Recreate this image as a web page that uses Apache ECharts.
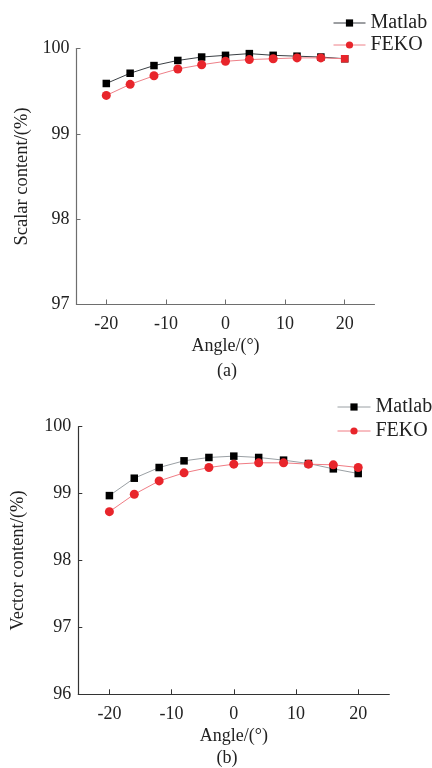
<!DOCTYPE html>
<html><head><meta charset="utf-8">
<script src="https://cdn.jsdelivr.net/npm/echarts@6/dist/echarts.min.js"></script>
<style>html,body{margin:0;padding:0;background:#fff}#c{width:432px;height:768px}</style>
</head><body><div id="c"></div>
<script>
const angles = [-20,-16,-12,-8,-4,0,4,8,12,16,20];
const scalarMatlab = [99.59,99.71,99.80,99.86,99.90,99.92,99.94,99.92,99.91,99.90,99.88];
const scalarFeko   = [99.45,99.58,99.68,99.76,99.81,99.85,99.87,99.88,99.89,99.89,99.88];
const vectorMatlab = [98.97,99.23,99.39,99.49,99.54,99.56,99.54,99.50,99.45,99.37,99.30];
const vectorFeko   = [98.73,98.99,99.19,99.31,99.39,99.44,99.46,99.46,99.44,99.43,99.39];
const xTicks = [-20,-10,0,10,20];
const scalarTicks = [97,98,99,100];
const vectorTicks = [96,97,98,99,100];

const F = 'Liberation Serif';
const chart = echarts.init(document.getElementById('c'), null, {renderer:'canvas'});
function pts(vals){ return angles.map((a,i)=>[a, vals[i]]); }

function xAxis(gi, axisColor){
  return {gridIndex:gi, type:'value', min:-25, max:25, interval:5,
    axisLine:{show:true, onZero:false, lineStyle:{color:axisColor, width:1.2}},
    axisTick:{show:true, inside:true, length:5, customValues:xTicks, lineStyle:{color:axisColor}},
    axisLabel:{color:'#222', fontFamily:F, fontSize:18, margin:11, customValues:xTicks},
    splitLine:{show:false},
    name:'Angle/(°)', nameLocation:'middle', nameGap:33,
    nameTextStyle:{color:'#222', fontFamily:F, fontSize:18}
  };
}
function yAxis(gi, min, max, ticks, name, axisColor, gap){
  return {gridIndex:gi, type:'value', min:min, max:max, interval:1,
    axisLine:{show:true, onZero:false, lineStyle:{color:axisColor, width:1.2}},
    axisTick:{show:true, inside:true, length:4, lineStyle:{color:axisColor}},
    axisLabel:{color:'#222', fontFamily:F, fontSize:18, margin:7},
    splitLine:{show:false},
    name:name, nameLocation:'middle', nameGap:gap, nameRotate:90,
    nameTextStyle:{color:'#222', fontFamily:F, fontSize:18.5}
  };
}
const red = '#e8252b';
function series(name, xi, vals, color, lineColor, symbol, size){
  return {name:name, type:'line', xAxisIndex:xi, yAxisIndex:xi, data:pts(vals),
    symbol:symbol, symbolSize:size, showSymbol:true,
    itemStyle:{color:color}, lineStyle:{color:lineColor, width:1}, z: 2, animation:false};
}
const s1 = series('Matlab',0,scalarMatlab,'#000','#3a3f44','rect',7.5);
const s2 = series('FEKO',0,scalarFeko,red,'#ee8088','circle',9);
s2.data[s2.data.length-1] = {value:s2.data[s2.data.length-1], symbol:'rect', symbolSize:7.5};
const s3 = series('Matlab',1,vectorMatlab,'#000','#9aa0a4','rect',7.5);
const s4 = series('FEKO',1,vectorFeko,red,'#f07c84','circle',9);

chart.setOption({
  animation:false,
  backgroundColor:'#fff',
  textStyle:{fontFamily:F},
  grid:[
    {left:76.5, top:48.5, width:298, height:256},
    {left:78.3, top:426.7, width:311, height:267.6}
  ],
  xAxis:[xAxis(0,'#6e6e6e'), xAxis(1,'#333')],
  yAxis:[yAxis(0,97,100,scalarTicks,'Scalar content/(%)','#6e6e6e',42),
         yAxis(1,96,100,vectorTicks,'Vector content/(%)','#333',51)],
  legend:[
    {left:333, top:13, padding:0, orient:'vertical', itemWidth:32, itemHeight:9, itemGap:2,
     textStyle:{fontFamily:F, fontSize:20, color:'#222'},
     data:[{name:'Matlab', itemStyle:{color:'#000'}, lineStyle:{color:'#3a3f44', width:1}},
           {name:'FEKO', itemStyle:{color:red}, lineStyle:{color:'#ee8088', width:1}}]},
    {left:337, top:397, padding:0, orient:'vertical', itemWidth:33, itemHeight:9, itemGap:4,
     textStyle:{fontFamily:F, fontSize:20, color:'#222'},
     data:[{name:'Matlab', itemStyle:{color:'#000'}, lineStyle:{color:'#9aa0a4', width:1}},
           {name:'FEKO', itemStyle:{color:red}, lineStyle:{color:'#f07c84', width:1}}]}
  ],
  title:[
    {text:'(a)', left:227, top:362, textAlign:'center', textStyle:{fontFamily:F, fontSize:18, fontWeight:'normal', color:'#222'}, padding:0},
    {text:'(b)', left:227, top:749, textAlign:'center', textStyle:{fontFamily:F, fontSize:18, fontWeight:'normal', color:'#222'}, padding:0}
  ],
  series:[s1,s2,s3,s4]
});
</script></body></html>
